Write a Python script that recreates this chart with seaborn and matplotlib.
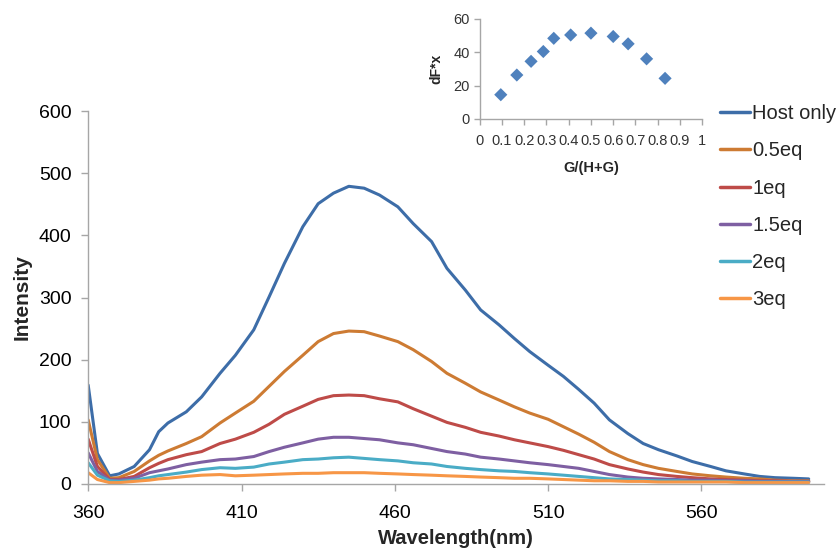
import matplotlib
matplotlib.use("Agg")
import matplotlib.pyplot as plt
import seaborn as sns
import pandas as pd

wavelength = [360, 363, 367, 370, 375, 380, 383, 386, 392, 397, 403, 408, 414, 419, 424,
              430, 435, 440, 445, 450, 455, 461, 466, 472, 477, 483, 488, 494, 499, 504,
              510, 515, 520, 525, 530, 536, 541, 546, 552, 557, 563, 568, 574, 579, 584,
              590, 595]

host_only = [159, 49, 13, 16, 28, 55, 84, 98, 116, 140, 178, 207, 248, 301, 355, 414, 451,
             468, 479, 476, 465, 446, 419, 390, 347, 312, 280, 256, 234, 213, 191, 173, 152,
             130, 103, 81, 65, 55, 45, 36, 28, 21, 16, 12, 10, 9, 8]
eq_0_5 = [103, 39, 9, 10, 20, 37, 46, 53, 65, 76, 98, 114, 133, 157, 181, 207, 229, 242, 246,
          245, 238, 229, 216, 197, 178, 162, 148, 135, 124, 114, 104, 92, 80, 67, 52, 39, 31,
          25, 20, 16, 13, 11, 9, 8, 6, 5, 5]
eq_1 = [72, 28, 7, 7, 12, 26, 33, 39, 47, 52, 65, 72, 83, 96, 112, 125, 136, 142, 143, 142,
        137, 132, 121, 109, 99, 91, 83, 77, 71, 66, 60, 54, 47, 40, 31, 24, 19, 15, 12, 10, 8,
        7, 6, 5, 5, 4, 4]
eq_1_5 = [50, 20, 6, 6, 9, 18, 21, 24, 31, 35, 39, 40, 44, 52, 59, 66, 72, 75, 75, 73, 71, 66,
          63, 57, 52, 48, 43, 40, 37, 34, 31, 28, 25, 20, 15, 11, 9, 8, 7, 6, 6, 5, 5, 4, 4, 4, 4]
eq_2 = [34, 14, 5, 4, 6, 10, 13, 15, 19, 23, 26, 25, 27, 32, 35, 39, 40, 42, 43, 41, 39, 37, 34,
        32, 28, 25, 23, 21, 20, 18, 16, 14, 12, 10, 8, 7, 6, 5, 5, 4, 4, 4, 3, 3, 3, 3, 3]
eq_3 = [18, 7, 2, 2, 4, 6, 8, 9, 12, 14, 15, 13, 14, 15, 16, 17, 17, 18, 18, 18, 17, 16, 15, 14,
        13, 12, 11, 10, 9, 9, 8, 7, 6, 5, 5, 4, 4, 3, 3, 3, 3, 3, 2, 2, 2, 2, 2]

series_names = ["Host only", "0.5eq", "1eq", "1.5eq", "2eq", "3eq"]
series_values = [host_only, eq_0_5, eq_1, eq_1_5, eq_2, eq_3]
colors = ["#3D6DA8", "#CD7B33", "#BE4B48", "#7E5FA2", "#4AACC6", "#F79646"]

job_x = [0.095, 0.167, 0.231, 0.286, 0.333, 0.409, 0.5, 0.6, 0.667, 0.75, 0.833]
job_y = [14.5, 26.3, 34.5, 40.4, 48.3, 50.3, 51.4, 49.4, 45.0, 36.0, 24.3]

x_ticks = [360, 410, 460, 510, 560]
y_ticks = [0, 100, 200, 300, 400, 500, 600]
inset_x_ticks = [0, 0.1, 0.2, 0.3, 0.4, 0.5, 0.6, 0.7, 0.8, 0.9, 1]
inset_x_labels = ["0", "0.1", "0.2", "0.3", "0.4", "0.5", "0.6", "0.7", "0.8", "0.9", "1"]
inset_y_ticks = [0, 20, 40, 60]

rows = []
for name, vals in zip(series_names, series_values):
    for w, v in zip(wavelength, vals):
        rows.append({"Wavelength": w, "Intensity": v, "Series": name})
df = pd.DataFrame(rows)
job_df = pd.DataFrame({"ratio": job_x, "dFx": job_y})

sns.set_theme(style="white")
plt.rcParams["font.family"] = ["Liberation Sans", "DejaVu Sans"]

fig = plt.figure(figsize=(8.4, 5.53), dpi=100)
ax = fig.add_axes([0.105, 0.125, 0.876, 0.674])

sns.lineplot(data=df, x="Wavelength", y="Intensity", hue="Series", hue_order=series_names,
             palette=colors, linewidth=2.2, ax=ax, legend=True)

ax.set_xlim(360, 600)
ax.set_ylim(0, 600)
ax.set_xticks(x_ticks)
ax.set_yticks(y_ticks)
for s in ["top", "right"]:
    ax.spines[s].set_visible(False)
for s in ["left", "bottom"]:
    ax.spines[s].set_color("#A6A6A6")
    ax.spines[s].set_linewidth(1.0)
ax.tick_params(axis="both", direction="out", length=5, width=1, color="#A6A6A6",
               labelsize=14, labelcolor="black")
ax.tick_params(axis="x", bottom=True, pad=10)
ax.tick_params(axis="y", left=True, pad=7)
ax.set_xlabel("Wavelength(nm)", fontsize=14.5, fontweight="bold", labelpad=5)
ax.set_ylabel("Intensity", fontsize=15, fontweight="bold", labelpad=5)

leg = ax.legend(loc="upper left", bbox_to_anchor=(0.848, 1.04), frameon=False,
                fontsize=14.5, handlelength=1.5, handletextpad=0.1, labelspacing=0.9,
                borderaxespad=0)
for line in leg.get_lines():
    line.set_linewidth(2.5)

iax = fig.add_axes([0.571, 0.785, 0.265, 0.181])
sns.scatterplot(data=job_df, x="ratio", y="dFx", marker="D", s=45, color="#4F81BD",
                edgecolor="none", ax=iax)
iax.set_xlim(0, 1)
iax.set_ylim(0, 60)
iax.set_xticks(inset_x_ticks)
iax.set_xticklabels(inset_x_labels)
iax.set_yticks(inset_y_ticks)
for s in ["top", "right"]:
    iax.spines[s].set_visible(False)
for s in ["left", "bottom"]:
    iax.spines[s].set_color("#A6A6A6")
    iax.spines[s].set_linewidth(1.0)
iax.tick_params(axis="both", direction="out", length=4, width=1, color="#A6A6A6",
                labelsize=10.5, labelcolor="#333333")
iax.tick_params(axis="x", bottom=True, pad=7)
iax.tick_params(axis="y", left=True, pad=3)
iax.set_xlabel("G/(H+G)", fontsize=10.5, fontweight="bold", labelpad=9)
iax.set_ylabel("dF*x", fontsize=10, fontweight="bold", labelpad=7)
iax.patch.set_alpha(0)

fig.savefig("out.png", dpi=100)
